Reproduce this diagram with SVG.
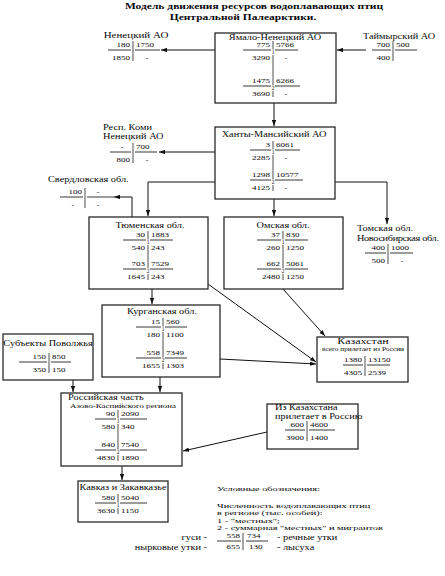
<svg xmlns="http://www.w3.org/2000/svg" width="445" height="576" viewBox="0 0 445 576">
<defs>
<style>
text{font-family:"Liberation Serif","Times New Roman",serif;fill:#0a0a0a;transform-box:fill-box;transform-origin:50% 50%;transform:scaleY(0.72)}
.lb{font-size:10.3px}
.lg{transform:scaleY(0.62)}
.n{font-size:9px}
.e{text-anchor:end}
.m{text-anchor:middle}
.dg{font-size:5.5px;text-anchor:middle;transform:none}
.title{font-size:11.5px;font-weight:bold;text-anchor:middle}
.sm{font-size:7.3px;text-anchor:middle}
.kz{font-size:12px;text-anchor:middle}
.box{fill:#fff;stroke:#2a2a2a;stroke-width:1.3}
.ul{fill:none;stroke:#222;stroke-width:0.9}
.vd{fill:none;stroke:#222;stroke-width:0.8}
.c{fill:none;stroke:#111;stroke-width:1;marker-end:url(#ah)}
</style>
<marker id="ah" viewBox="0 0 6 4.4" refX="6" refY="2.2" markerWidth="6" markerHeight="4.4" markerUnits="userSpaceOnUse" orient="auto"><path d="M0,0L6,2.2L0,4.4z" fill="#111"/></marker>
</defs>
<rect width="445" height="576" fill="#fff"/>

<g id="title">
<text class="title" x="254" y="10">Модель движения ресурсов водоплавающих птиц</text>
<text class="title" x="243" y="21">Центральной Палеарктики.</text>
</g>

<g id="connectors">
<path class="c" d="M215 50H161"/>
<path class="c" d="M366 50H337"/>
<path class="c" d="M274 103V126"/>
<path class="c" d="M215 152H159"/>
<path class="c" d="M215 182H148V216"/>
<path class="c" d="M274 199V216"/>
<path class="c" d="M335 182H387V224"/>
<path class="c" d="M132 217V197H114"/>
<path class="c" d="M152 289V304"/>
<path class="c" d="M208 284L316 362"/>
<path class="c" d="M283 289L325 336"/>
<path class="c" d="M220 359L316 364"/>
<path class="c" d="M160 377V392"/>
<path class="c" d="M73 380V392"/>
<path class="c" d="M267 432L183 451"/>
<path class="c" d="M122 466V480"/>
</g>

<g id="nenets">
<text class="lb m" x="136" y="39.5" style="font-size:11px">Ненецкий АО</text>
<text class="n e" x="130" y="48">180</text><text class="n" x="136" y="48">1750</text>
<text class="n e" x="130" y="61">1850</text><text class="n m" x="147" y="61">-</text>
<path class="ul" d="M108 50H131M135 50H160"/><path class="vd" d="M133 41V61"/>
</g>

<g id="yamal">
<rect class="box" x="215" y="33" width="121" height="70"/>
<text class="lb m" x="275" y="41">Ямало-Ненецкий АО</text>
<text class="n e" x="270" y="48">775</text><text class="n" x="276" y="48">5766</text>
<text class="n e" x="270" y="61">3290</text><text class="n m" x="286" y="61">-</text>
<text class="n e" x="270" y="84">1475</text><text class="n" x="276" y="84">6266</text>
<text class="n e" x="270" y="97">3690</text><text class="n m" x="286" y="97">-</text>
<path class="ul" d="M243 50H271M275 50H298M243 86H271M275 86H300"/>
<path class="vd" d="M273 41V49.5M273 55V85.5M273 91V97"/>
<text class="dg" x="273" y="54">1</text><text class="dg" x="273" y="90">2</text>
</g>

<g id="taimyr">
<text class="lb m" x="399" y="39.5">Таймырский АО</text>
<text class="n e" x="390" y="48">700</text><text class="n" x="396" y="48">500</text>
<text class="n e" x="390" y="61">400</text>
<path class="ul" d="M372 50H391M395 50H417"/><path class="vd" d="M393 41V61"/>
</g>

<g id="khanty">
<rect class="box" x="215" y="127" width="120" height="72"/>
<text class="lb m" x="274" y="137.5">Ханты-Мансийский АО</text>
<text class="n e" x="270" y="148">3</text><text class="n" x="276" y="148">6061</text>
<text class="n e" x="270" y="161">2285</text><text class="n m" x="286" y="161">-</text>
<text class="n e" x="270" y="178">1298</text><text class="n" x="276" y="178">10577</text>
<text class="n e" x="270" y="191">4125</text><text class="n m" x="286" y="191">-</text>
<path class="ul" d="M250 150H271M275 150H300M250 180H271M275 180H303"/>
<path class="vd" d="M273 141V149.5M273 155V179.5M273 185V191"/>
<text class="dg" x="273" y="154">1</text><text class="dg" x="273" y="184">2</text>
</g>

<g id="komi">
<text class="lb" x="103" y="130.5">Респ. Коми</text>
<text class="lb" x="103" y="139.5">Ненецкий АО</text>
<text class="n m" x="122" y="150">-</text><text class="n" x="136" y="150">700</text>
<text class="n e" x="130" y="163">800</text><text class="n m" x="147" y="163">-</text>
<path class="ul" d="M110 152H131M135 152H157"/><path class="vd" d="M133 143V163"/>
</g>

<g id="sverdlovsk">
<text class="lb" x="48" y="182.5">Свердловская обл.</text>
<text class="n e" x="82" y="195">100</text><text class="n m" x="98" y="195">-</text>
<text class="n m" x="73" y="208">-</text><text class="n m" x="98" y="208">-</text>
<path class="ul" d="M60 197H83M87 197H114"/><path class="vd" d="M85 188V208"/>
</g>

<g id="tyumen">
<rect class="box" x="89" y="217" width="119" height="72"/>
<text class="lb m" x="150" y="228.5">Тюменская обл.</text>
<text class="n e" x="145" y="238">30</text><text class="n" x="151" y="238">1883</text>
<text class="n e" x="145" y="251">540</text><text class="n" x="151" y="251">243</text>
<text class="n e" x="145" y="267">703</text><text class="n" x="151" y="267">7529</text>
<text class="n e" x="145" y="280">1645</text><text class="n" x="151" y="280">243</text>
<path class="ul" d="M123 240H146M150 240H173M123 269H146M150 269H173"/>
<path class="vd" d="M148 231V239.5M148 245V268.5M148 274V280"/>
<text class="dg" x="148" y="244">1</text><text class="dg" x="148" y="273">2</text>
</g>

<g id="omsk">
<rect class="box" x="224" y="217" width="119" height="72"/>
<text class="lb m" x="283" y="228.5">Омская обл.</text>
<text class="n e" x="280" y="238">37</text><text class="n" x="286" y="238">830</text>
<text class="n e" x="280" y="251">260</text><text class="n" x="286" y="251">1250</text>
<text class="n e" x="280" y="267">662</text><text class="n" x="286" y="267">5061</text>
<text class="n e" x="280" y="280">2480</text><text class="n" x="286" y="280">1250</text>
<path class="ul" d="M257 240H281M285 240H308M257 269H281M285 269H308"/>
<path class="vd" d="M283 231V239.5M283 245V268.5M283 274V280"/>
<text class="dg" x="283" y="244">1</text><text class="dg" x="283" y="273">2</text>
</g>

<g id="tomsk">
<text class="lb" x="357" y="231.5">Томская обл.</text>
<text class="lb" x="357" y="241.5" textLength="82" lengthAdjust="spacing">Новосибирская обл.</text>
<text class="n e" x="385" y="251">400</text><text class="n" x="391" y="251">1000</text>
<text class="n e" x="385" y="264">500</text><text class="n m" x="402" y="264">-</text>
<path class="ul" d="M365 253H386M390 253H413"/><path class="vd" d="M388 244V264"/>
</g>

<g id="kurgan">
<rect class="box" x="102" y="305" width="118" height="72"/>
<text class="lb m" x="162" y="314.5">Курганская обл.</text>
<text class="n e" x="160" y="325">15</text><text class="n" x="166" y="325">560</text>
<text class="n e" x="160" y="338">180</text><text class="n" x="166" y="338">1100</text>
<text class="n e" x="160" y="356">558</text><text class="n" x="166" y="356">7349</text>
<text class="n e" x="160" y="369">1655</text><text class="n" x="166" y="369">1303</text>
<path class="ul" d="M136 327H161M165 327H187M136 358H161M165 358H187"/>
<path class="vd" d="M163 318V326.5M163 332V357.5M163 363V369"/>
<text class="dg" x="163" y="331">1</text><text class="dg" x="163" y="362">2</text>
</g>

<g id="volga">
<rect class="box" x="3" y="334" width="90" height="46"/>
<text class="lb m" x="48" y="346.5">Субъекты Поволжья</text>
<text class="n e" x="46" y="360">150</text><text class="n" x="52" y="360">850</text>
<text class="n e" x="46" y="373">350</text><text class="n" x="52" y="373">150</text>
<path class="ul" d="M19 362H47M51 362H71"/><path class="vd" d="M49 353V373"/>
</g>

<g id="kazakhstan">
<rect class="box" x="317" y="337" width="91" height="45"/>
<text class="kz" x="363" y="345.5">Казахстан</text>
<text class="sm" x="363" y="352">всего прилетает из России</text>
<text class="n e" x="362" y="363">1380</text><text class="n" x="368" y="363">13150</text>
<text class="n e" x="362" y="376">4305</text><text class="n" x="368" y="376">2539</text>
<path class="ul" d="M343 365H363M367 365H390"/><path class="vd" d="M365 356V376"/>
</g>

<g id="azov-caspian">
<rect class="box" x="61" y="393" width="121" height="73"/>
<text class="lb" x="68" y="400.5">Российская часть</text>
<text class="lb" x="70" y="408.5" style="font-size:9.4px" textLength="106" lengthAdjust="spacingAndGlyphs">Азово-Каспийского региона</text>
<text class="n e" x="115" y="417">90</text><text class="n" x="121" y="417">2090</text>
<text class="n e" x="115" y="430">580</text><text class="n" x="121" y="430">340</text>
<text class="n e" x="115" y="448">840</text><text class="n" x="121" y="448">7540</text>
<text class="n e" x="115" y="461">4830</text><text class="n" x="121" y="461">1890</text>
<path class="ul" d="M95 419H116M120 419H147M95 450H116M120 450H147"/>
<path class="vd" d="M118 410V418.5M118 424V449.5M118 455V461"/>
<text class="dg" x="118" y="423">1</text><text class="dg" x="118" y="454">2</text>
</g>

<g id="from-kazakhstan">
<rect class="box" x="267" y="404" width="91" height="45"/>
<text class="lb" x="275" y="411">Из Казахстана</text>
<text class="lb" x="275" y="419.5">прилетает в Россию</text>
<text class="n e" x="304" y="428">600</text><text class="n" x="310" y="428">4600</text>
<text class="n e" x="304" y="441">3900</text><text class="n" x="310" y="441">1400</text>
<path class="ul" d="M285 430H305M309 430H335"/><path class="vd" d="M307 421V441"/>
</g>

<g id="caucasus">
<rect class="box" x="78" y="481" width="90" height="41"/>
<text class="lb m" x="123" y="490.5">Кавказ и Закавказье</text>
<text class="n e" x="115" y="501">580</text><text class="n" x="121" y="501">5040</text>
<text class="n e" x="115" y="514">3630</text><text class="n" x="121" y="514">1150</text>
<path class="ul" d="M95 503H116M120 503H147"/>
<path class="vd" d="M118 494V502.5M118 508V514"/>
<text class="dg" x="118" y="507">1</text>
</g>

<g id="legend">
<text class="lb lg" x="217" y="492.5">Условные обозначения:</text>
<text class="lb lg" x="217" y="509.5">Численность водоплавающих птиц</text>
<text class="lb lg" x="217" y="516.8">в регионе (тыс. особей):</text>
<text class="lb lg" x="217" y="524.1">1 - "местных";</text>
<text class="lb lg" x="217" y="531.4">2 - суммарная "местных" и мигрантов</text>
<text class="lb e" x="207" y="540.5">гуси -</text>
<text class="lb e" x="207" y="550.5">нырковые утки -</text>
<text class="lb" x="277" y="540.5">-  речные утки</text>
<text class="lb" x="277" y="550.5">-  лысуха</text>
<text class="n e" x="240" y="539">558</text><text class="n" x="247" y="539">734</text>
<text class="n e" x="240" y="550">655</text><text class="n" x="249" y="550">130</text>
<path class="ul" d="M217 541H241M246 541H268"/><path class="vd" d="M243 533V550"/>
</g>
</svg>
